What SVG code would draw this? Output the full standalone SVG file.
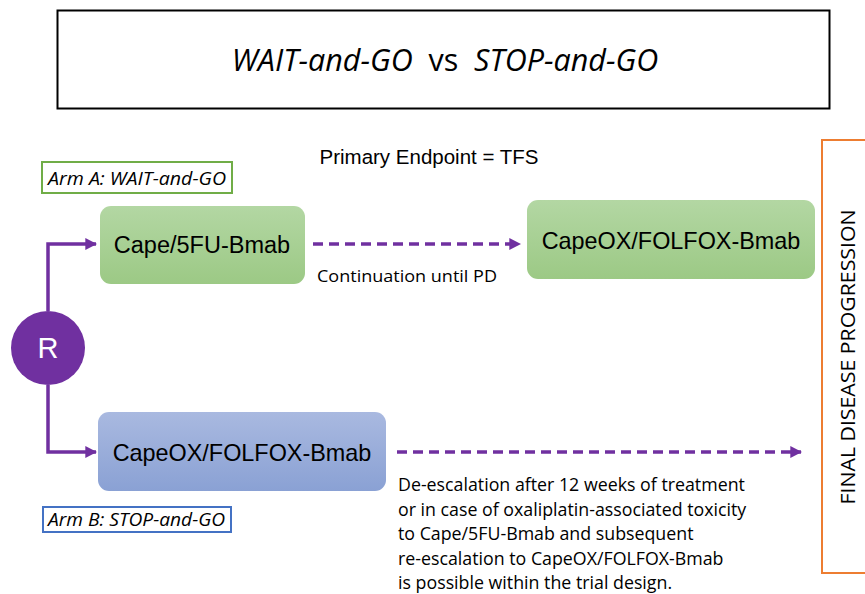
<svg xmlns="http://www.w3.org/2000/svg" width="865" height="594" viewBox="0 0 865 594">
<style>
.cal{font-family:"Open Sans","Liberation Sans",sans-serif;fill:#000}
.ar{font-family:"Liberation Sans",Arial,sans-serif;fill:#000}
.node{stroke:none}
.conn{stroke:#7030a0;stroke-width:3.5;fill:none}
.dash{stroke-dasharray:10 6}
</style>
<defs>
<linearGradient id="gG" x1="0" y1="0" x2="0" y2="1"><stop offset="0" stop-color="#b3d7a3"/><stop offset="1" stop-color="#9cc985"/></linearGradient>
<linearGradient id="gB" x1="0" y1="0" x2="0" y2="1"><stop offset="0" stop-color="#a9b9e0"/><stop offset="1" stop-color="#8aa1d4"/></linearGradient>
<marker id="ah" viewBox="0 0 10 10" refX="9" refY="5" markerWidth="3.4" markerHeight="3.4" orient="auto" markerUnits="strokeWidth"><path d="M0,0 L10,5 L0,10 z" fill="#7030a0"/></marker>
</defs>
<rect width="865" height="594" fill="#fff"/>
<g id="title">
<rect x="57.5" y="10.5" width="772" height="98" fill="#fff" stroke="#000" stroke-width="2"/>
<text x="445" y="71" text-anchor="middle" class="cal" font-size="30.5" xml:space="preserve"><tspan font-style="italic">WAIT-and-GO</tspan>  vs  <tspan font-style="italic">STOP-and-GO</tspan></text>
</g>
<g id="endpoint"><text x="429" y="164" text-anchor="middle" class="ar" font-size="20.5">Primary Endpoint = TFS</text></g>
<g id="armA">
<rect x="42" y="162" width="190" height="31" fill="#fff" stroke="#70ad47" stroke-width="2"/>
<text x="48" y="185" class="cal" font-size="18.5" font-style="italic" textLength="178" lengthAdjust="spacingAndGlyphs">Arm A: WAIT-and-GO</text>
</g>
<g id="armB">
<rect x="43" y="507" width="188" height="25" fill="#fff" stroke="#4472c4" stroke-width="2"/>
<text x="48" y="526" class="cal" font-size="18.5" font-style="italic" textLength="177" lengthAdjust="spacingAndGlyphs">Arm B: STOP-and-GO</text>
</g>
<g id="connectors">
<path class="conn" d="M48,311 V244 H96" marker-end="url(#ah)"/>
<path class="conn" d="M48,385 V452 H96" marker-end="url(#ah)"/>
<path class="conn dash" d="M313,244 H520" marker-end="url(#ah)"/>
<path class="conn dash" d="M397,452 H801" marker-end="url(#ah)"/>
</g>
<g id="R">
<circle cx="48" cy="348" r="37" fill="#7030a0"/>
<text x="48" y="358" text-anchor="middle" font-family="Liberation Sans,Arial,sans-serif" font-size="29" fill="#fff">R</text>
</g>
<g id="capeA">
<rect class="node" x="100" y="206" width="205" height="78" rx="11" fill="url(#gG)"/>
<text x="202" y="253" text-anchor="middle" class="ar" font-size="23.5">Cape/5FU-Bmab</text>
</g>
<g id="capeoxA">
<rect class="node" x="527" y="200" width="288" height="79" rx="11" fill="url(#gG)"/>
<text x="671" y="249" text-anchor="middle" class="ar" font-size="23.4">CapeOX/FOLFOX-Bmab</text>
</g>
<g id="capeoxB">
<rect class="node" x="98" y="412" width="288" height="79" rx="11" fill="url(#gB)"/>
<text x="242" y="461" text-anchor="middle" class="ar" font-size="23.4">CapeOX/FOLFOX-Bmab</text>
</g>
<g id="cont"><text x="317" y="282" class="cal" font-size="17" textLength="180" lengthAdjust="spacingAndGlyphs">Continuation until PD</text></g>
<g id="desc" class="cal" font-size="17.8">
<text x="398" y="491">De-escalation after 12 weeks of treatment</text>
<text x="398" y="515.5">or in case of oxaliplatin-associated toxicity</text>
<text x="398" y="540">to Cape/5FU-Bmab and subsequent</text>
<text x="398" y="564.5">re-escalation to CapeOX/FOLFOX-Bmab</text>
<text x="398" y="589">is possible within the trial design.</text>
</g>
<g id="final">
<rect x="822" y="140" width="60" height="433" fill="#fff" stroke="#ed7d31" stroke-width="2"/>
<text transform="translate(855,357) rotate(-90)" text-anchor="middle" class="cal" font-size="20.5" textLength="295" lengthAdjust="spacingAndGlyphs">FINAL DISEASE PROGRESSION</text>
</g>
</svg>
